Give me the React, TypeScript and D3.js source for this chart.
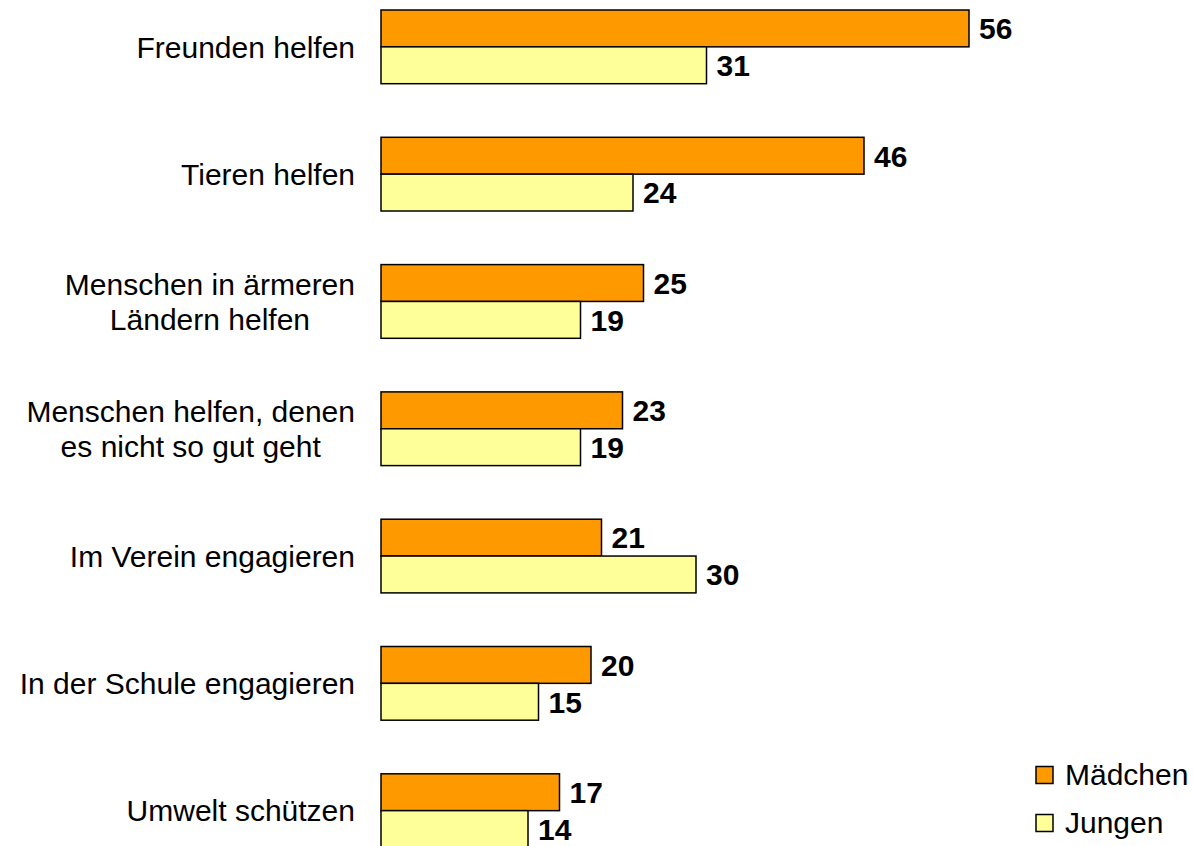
import React, { useMemo } from "react";
import * as d3 from "d3";

const categories: string[][] = [
  ["Freunden helfen"],
  ["Tieren helfen"],
  ["Menschen in ärmeren", "Ländern helfen"],
  ["Menschen helfen, denen", "es nicht so gut geht"],
  ["Im Verein engagieren"],
  ["In der Schule engagieren"],
  ["Umwelt schützen"],
];
const maedchen: number[] = [56, 46, 25, 23, 21, 20, 17];
const jungen: number[] = [31, 24, 19, 19, 30, 15, 14];
const seriesNames: string[] = ["Mädchen", "Jungen"];
const seriesColors: string[] = ["#FF9900", "#FFFF99"];

const W = 1193;
const H = 846;
const FONT = "'Liberation Sans', Arial, sans-serif";
const FS = 30;

function measure(text: string, bold = false): number {
  const c = document.createElement("canvas").getContext("2d");
  if (!c) return text.length * FS * 0.5;
  c.font = `${bold ? "bold " : ""}${FS}px 'Liberation Sans', Arial, sans-serif`;
  return c.measureText(text).width;
}

export default function App() {
  const keys = categories.map((c) => c.join(" "));
  const step = 127.3;
  const gap = 53.6;
  const y = d3
    .scaleBand<string>()
    .domain(keys)
    .range([10 - gap / 2, 10 - gap / 2 + step * keys.length])
    .paddingInner(gap / step)
    .paddingOuter(gap / step / 2);
  const sub = d3.scaleBand<number>().domain([0, 1]).range([0, y.bandwidth()]);
  const x = d3.scaleLinear().domain([0, 60]).range([381, 381 + 60 * 10.5]);

  const labelRight = 355;
  const widths = useMemo(
    () => categories.map((lines) => Math.max(...lines.map((l) => measure(l)))),
    []
  );

  const series = [maedchen, jungen];
  const lineH = 35;

  return (
    <svg
      width={W}
      height={H}
      style={{ position: "absolute", left: 0, top: 0, background: "#fff" }}
      fontFamily={FONT}
    >
      {categories.map((lines, i) => {
        const key = keys[i];
        const y0 = y(key)!;
        const cy = y0 + y.bandwidth() / 2;
        const cx = labelRight - widths[i] / 2;
        return (
          <g key={key}>
            {lines.map((ln, j) => (
              <text
                key={j}
                x={lines.length === 1 ? labelRight : cx}
                y={cy + (j - (lines.length - 1) / 2) * lineH}
                dy="0.36em"
                textAnchor={lines.length === 1 ? "end" : "middle"}
                fontSize={FS}
                fill="#000"
              >
                {ln}
              </text>
            ))}
            {series.map((vals, s) => {
              const by = y0 + sub(s)!;
              const bh = sub.bandwidth();
              return (
                <g key={s}>
                  <rect
                    x={x(0)}
                    y={by}
                    width={x(vals[i]) - x(0)}
                    height={bh}
                    fill={seriesColors[s]}
                    stroke="#000"
                    strokeWidth={1.5}
                  />
                  <text
                    x={x(vals[i]) + 10}
                    y={by + bh / 2}
                    dy="0.36em"
                    fontSize={FS}
                    fontWeight="bold"
                    fill="#000"
                  >
                    {vals[i]}
                  </text>
                </g>
              );
            })}
          </g>
        );
      })}
      {seriesNames.map((name, s) => {
        const cy = 775 + s * 48;
        return (
          <g key={name}>
            <rect
              x={1036}
              y={cy - 8.5}
              width={17}
              height={17}
              fill={seriesColors[s]}
              stroke="#000"
              strokeWidth={1.5}
            />
            <text x={1065} y={cy - 1} dy="0.36em" fontSize={FS} fill="#000">
              {name}
            </text>
          </g>
        );
      })}
    </svg>
  );
}
